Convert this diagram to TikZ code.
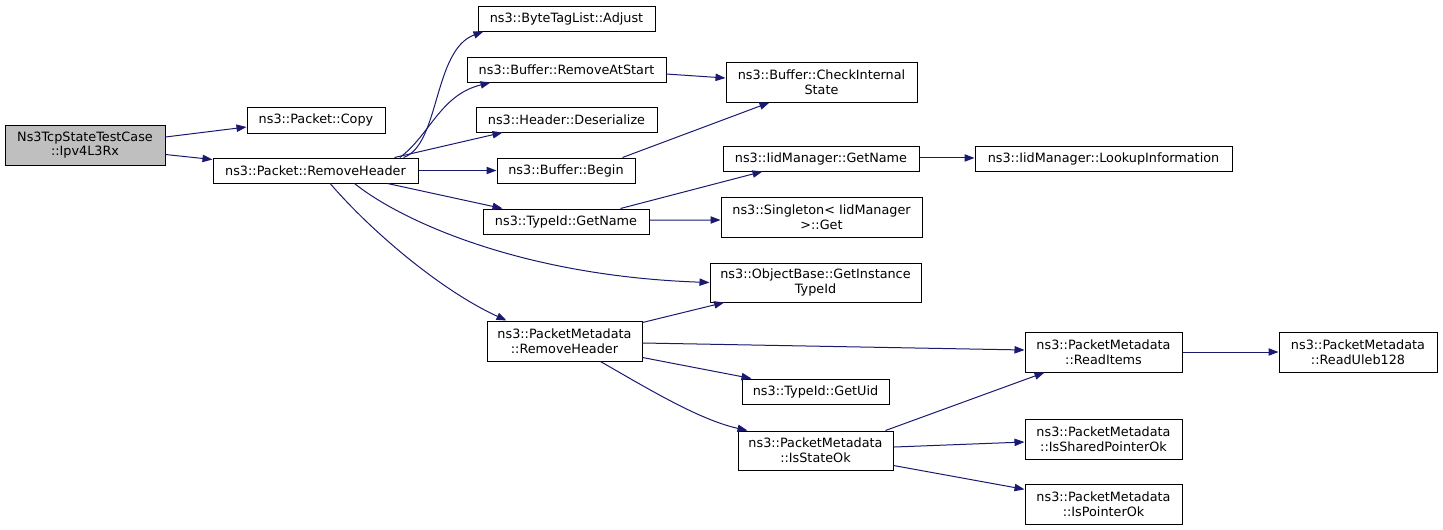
\documentclass[tikz,border=0pt]{standalone}
\usepackage{fontspec}
\setmainfont{DejaVu Sans}
\usetikzlibrary{arrows.meta}
\definecolor{edgec}{HTML}{191970}
\definecolor{rootc}{HTML}{BFBFBF}
\newcommand\nbox[7][]{\node[box,#1,minimum width={(#4-#2)*0.75pt},minimum height={(#5-#3)*0.75pt}] (#6) at ({(#2+#4)/2},{(#3+#5)/2}) {#7};}
\begin{document}
\begin{tikzpicture}[x=0.75pt,y=-0.75pt,
  box/.style={draw=black,line width=0.75pt,fill=white,inner sep=0pt,align=center,font=\fontsize{9.6}{11}\selectfont},
  edge/.style={draw=edgec,line width=0.75pt,-{Triangle[length=7.5pt,width=5.5pt]}}]
\useasboundingbox (0,0) rectangle (1443,529);
\nbox[fill=rootc]{5}{125}{165}{165}{ipv}{Ns3TcpStateTestCase\\::Ipv4L3Rx}
\nbox{247}{107}{385}{133}{cpy}{ns3::Packet::Copy}
\nbox{213}{158}{418}{183}{prh}{ns3::Packet::RemoveHeader}
\nbox{478}{6}{655}{31}{adj}{ns3::ByteTagList::Adjust}
\nbox{467}{57}{666}{82}{ras}{ns3::Buffer::RemoveAtStart}
\nbox{476}{107}{657}{132}{hd}{ns3::Header::Deserialize}
\nbox{497}{158}{635}{183}{bb}{ns3::Buffer::Begin}
\nbox{483}{209}{649}{234}{tgn}{ns3::TypeId::GetName}
\nbox{726}{62}{917}{102}{cis}{ns3::Buffer::CheckInternal\\State}
\nbox{723}{146}{919}{171}{ign}{ns3::IidManager::GetName}
\nbox{975}{146}{1232}{171}{lk}{ns3::IidManager::LookupInformation}
\nbox{721}{197}{922}{237}{sg}{ns3::Singleton< IidManager\\ >::Get}
\nbox{710}{263}{921}{302}{git}{ns3::ObjectBase::GetInstance\\TypeId}
\nbox{487}{321}{642}{361}{pmrh}{ns3::PacketMetadata\\::RemoveHeader}
\nbox{742}{379}{889}{404}{uid}{ns3::TypeId::GetUid}
\nbox{738}{431}{893}{470}{iso}{ns3::PacketMetadata\\::IsStateOk}
\nbox{1025}{332}{1182}{372}{ri}{ns3::PacketMetadata\\::ReadItems}
\nbox{1279}{332}{1437}{372}{ru}{ns3::PacketMetadata\\::ReadUleb128}
\nbox{1025}{419}{1182}{459}{isp}{ns3::PacketMetadata\\::IsSharedPointerOk}
\nbox{1025}{484}{1182}{524}{ipo}{ns3::PacketMetadata\\::IsPointerOk}
% edges
\draw[edge] ([yshift=6pt]ipv.east) -- ([yshift=-5.25pt]cpy.west);
\draw[edge] ([yshift=8.25pt]ipv.south east) -- ([yshift=-1.5pt]prh.north west);
\draw[edge] ([xshift=-11.25pt]prh.north east) .. controls (440,145) and (433,50) .. ([xshift=4.5pt]adj.south west);
\draw[edge] ([xshift=-14pt]prh.north east) .. controls (430,135) and (440,95) .. ([xshift=18pt]ras.south west);
\draw[edge] ([xshift=-18pt]prh.north east) -- ([xshift=20.25pt]hd.south west);
\draw[edge] (prh.east) -- (bb.west);
\draw[edge] ([xshift=-23.25pt]prh.south east) -- ([xshift=15pt]tgn.north west);
\draw[edge] ([xshift=29.25pt]prh.south) .. controls (400,220) and (520,276) .. (git.west);
\draw[edge] ([xshift=11pt]prh.south) .. controls (370,230) and (440,290) .. ([xshift=15pt]pmrh.north west);
\draw[edge] ([xshift=-9.75pt]bb.north east) -- ([xshift=33pt]cis.south west);
\draw[edge] ([yshift=-3.4pt]ras.east) -- ([yshift=3pt]cis.west);
\draw[edge] ([xshift=-21.75pt]tgn.north east) -- ([xshift=30pt]ign.south west);
\draw[edge] ([yshift=1.1pt]tgn.east) -- ([yshift=-2.25pt]sg.west);
\draw[edge] ([yshift=0.4pt]ign.east) -- ([yshift=0.4pt]lk.west);
\draw[edge] ([yshift=-1.5pt]pmrh.north east) -- ([xshift=11pt]git.south west);
\draw[edge] ([yshift=-1.5pt]pmrh.east) -- ([yshift=1.5pt]ri.west);
\draw[edge] ([yshift=3pt]pmrh.south east) -- ([xshift=7.5pt]uid.north west);
\draw[edge] ([xshift=-31.5pt]pmrh.south east) .. controls (650,390) and (700,420) .. ([xshift=7.5pt]iso.north west);
\draw[edge] ([xshift=-6pt]iso.north east) -- ([xshift=15pt]ri.south west);
\draw[edge] ([yshift=2.6pt]iso.east) -- ([yshift=-2.25pt]isp.west);
\draw[edge] ([yshift=3.75pt]iso.south east) -- ([yshift=11pt]ipo.west);
\draw[edge] (ri.east) -- (ru.west);
\end{tikzpicture}
\end{document}
